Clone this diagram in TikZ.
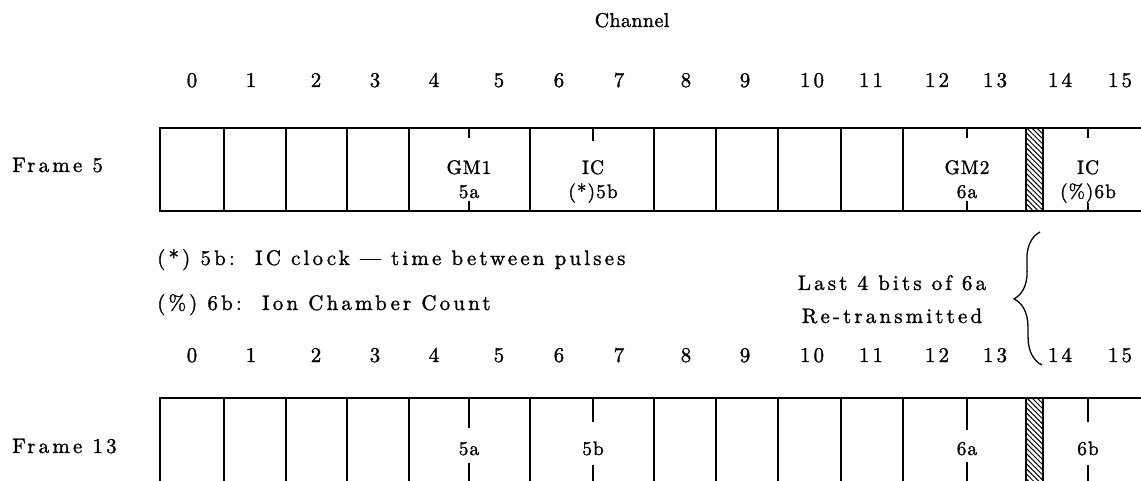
\documentclass[tikz,border=0pt]{standalone}
\usepackage{fontspec}
\setmainfont{lmroman10-regular.otf}[LetterSpace=15, FakeBold=1.3]
\newfontfamily\cellfont{lmroman10-regular.otf}[LetterSpace=5, FakeBold=1.3]
\newfontfamily\titlefont{lmroman10-regular.otf}[LetterSpace=2, FakeBold=1.3]
\usetikzlibrary{patterns.meta,decorations.pathreplacing}

\begin{document}
\begin{tikzpicture}[x=1pt,y=-1pt,
  lab/.style={font=\fontsize{21}{24}\selectfont, inner sep=0pt, anchor=base},
  labw/.style={lab, anchor=base west},
  celltxt/.style={font=\cellfont\fontsize{19.5}{22}\selectfont, inner sep=0pt, anchor=base},
  cell/.style={draw, line width=2pt, inner sep=0pt, outer sep=0pt},
  fivecell/.style={cell, minimum height=83pt},
  thirteencell/.style={cell, minimum height=162pt},
  hatchcell/.style={line width=2.6pt,
    pattern={Lines[angle=-45,distance=3.6pt,line width=1pt]}},
  tick/.style={line width=1.4pt},
  bracestyle/.style={decorate, decoration={brace, amplitude=27pt}, line width=1.3pt}]

\useasboundingbox (0,0) rectangle (1141,481);
\clip (0,0) rectangle (1141,481);

% heading and channel numbers
\node[lab, font=\titlefont\fontsize{20}{23}\selectfont] (chtitle) at (632,27) {Channel};
\foreach \n/\x in {0/192,1/251,2/316,3/375,4/434,5/499,6/559,7/619,
                   8/686,9/745,10/812,11/871,12/937,13/995,14/1060,15/1120}{
  \node[lab] (top\n) at (\x,87) {\n};
  \node[lab] (bot\n) at (\x,362) {\n};
}

% frame labels
\node[labw] (fr5) at (12,172) {Frame 5};
\node[labw] (fr13) at (12,453) {Frame 13};

% Frame 5 word cells
\foreach \nm/\cx/\w in {c0/192/64, c1/255/62, c2/316.5/61, c3/378/62,
                        gma/469.25/120.5, ica/591.75/124.5,
                        c8/685/62, c9/747/62, c10/809.5/63, c11/872/62,
                        gmb/964.5/123, icb/1121.5/157}{
  \node[fivecell, minimum width=\w pt] (f5\nm) at (\cx,169.5) {};
}
\node[fivecell, hatchcell, minimum width=17pt] (f5hatch) at (1034.5,169.5) {};

% Frame 5 contents
\node[celltxt] (f5gmname) at (469,174) {GM1};
\node[celltxt] (f5gmval) at (469,198) {5a};
\node[celltxt] (f5icname) at (593,174) {IC};
\node[celltxt] (f5icval) at (593,198) {(*)5b};
\node[celltxt] (f5gmbname) at (967,174) {GM2};
\node[celltxt] (f5gmbval) at (967,198) {6a};
\node[celltxt] (f5icbname) at (1088,174) {IC};
\node[celltxt] (f5icbval) at (1088,198) {(\%)6b};

\draw[tick] (f5gmname |- f5gma.north) -- ++(0,10);
\draw[tick] (f5gmval |- f5gma.south) -- ++(0,-10);
\draw[tick] (f5icname |- f5ica.north) -- ++(0,13);
\draw[tick] (f5gmbname |- f5gmb.north) -- ++(0,10);
\draw[tick] (f5gmbval |- f5gmb.south) -- ++(0,-10);
\draw[tick] (f5icbname |- f5icb.north) -- ++(0,10);
\draw[tick] (f5icbval |- f5icb.south) -- ++(0,-8);

% footnotes
\node[labw] (note1) at (157,265) {(*) 5b:\ \ IC clock — time between pulses};
\node[labw] (note2) at (157,310) {(\%) 6b:\ \ Ion Chamber Count};

% re-transmission remark with brace
\node[lab] (rt1) at (892,290) {Last 4 bits of 6a};
\node[lab] (rt2) at (892,323) {Re-transmitted};
\coordinate (brtop) at (1040,232);
\coordinate (brbot) at (1042,365);
\draw[bracestyle] (brbot) -- (brtop);

% Frame 13 word cells (continuing below the cut)
\foreach \nm/\cx/\w in {c0/192/64, c1/255/62, c2/316.5/61, c3/378/62,
                        gma/469.25/120.5, ica/591.75/124.5,
                        c8/685/62, c9/747/62, c10/809.5/63, c11/872/62,
                        gmb/964.5/123, icb/1121.5/157}{
  \node[thirteencell, minimum width=\w pt] (f13\nm) at (\cx,479) {};
}
\node[thirteencell, hatchcell, minimum width=17pt] (f13hatch) at (1034.5,479) {};

% Frame 13 contents
\node[celltxt] (f13a) at (469,455) {5a};
\node[celltxt] (f13b) at (593,455) {5b};
\node[celltxt] (f13c) at (967,455) {6a};
\node[celltxt] (f13d) at (1088,455) {6b};

\draw[tick] (f13a |- f13gma.north) -- ++(0,30);
\draw[tick] (f13a.base) ++(0,8) -- ++(0,40);
\draw[tick] (f13b |- f13ica.north) -- ++(0,24);
\draw[tick] (f13b.base) ++(0,10) -- ++(0,40);
\draw[tick] (f13c |- f13gmb.north) -- ++(0,32);
\draw[tick] (f13c.base) ++(0,7) -- ++(0,40);
\draw[tick] (f13d |- f13icb.north) -- ++(0,24);
\draw[tick] (f13d.base) ++(0,10) -- ++(0,40);
\end{tikzpicture}
\end{document}
